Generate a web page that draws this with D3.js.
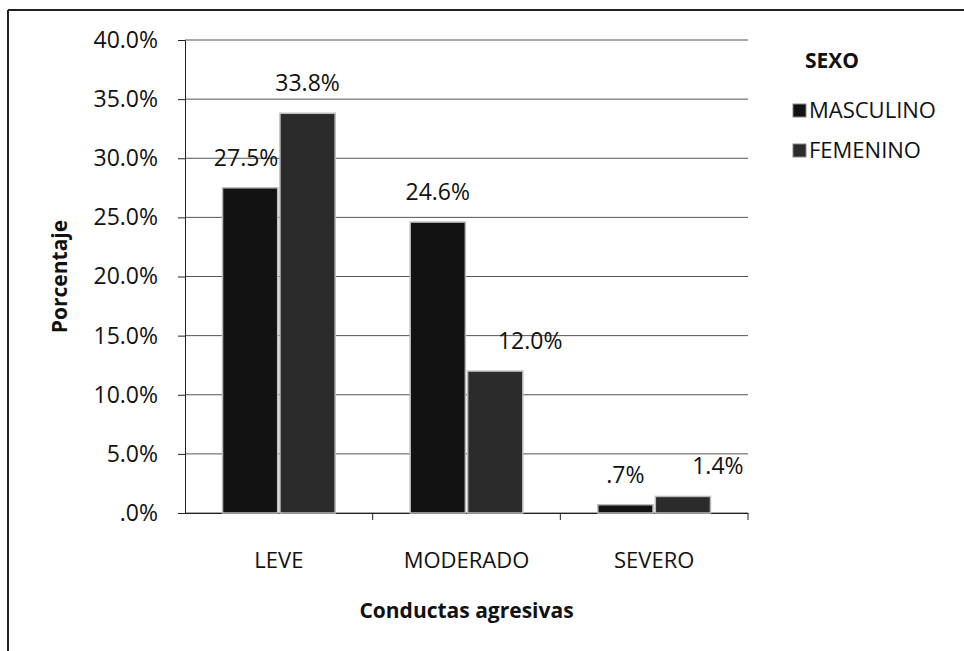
<!DOCTYPE html>
<html>
<head>
<meta charset="utf-8">
<script src="https://cdn.jsdelivr.net/npm/d3@7"></script>
<style>
  body { margin: 0; background: #fff; }
  text { font-family: "Open Sans", "Noto Sans", sans-serif; fill: #111; }
</style>
</head>
<body>
<div id="chart"></div>
<script>
const width = 964;
const height = 651;
const margin = { top: 40, right: 216, bottom: 138, left: 185 };

const categories = ['LEVE', 'MODERADO', 'SEVERO'];
const series = ['MASCULINO', 'FEMENINO'];
const masculino = [27.5, 24.6, 0.7];
const femenino = [33.8, 12.0, 1.4];
const yTicks = [0, 5, 10, 15, 20, 25, 30, 35, 40];

const data = categories.map((c, i) => ({ cat: c, values: [masculino[i], femenino[i]] }));

const svg = d3.select('#chart')
    .append('svg')
    .attr('width', width)
    .attr('height', height);

// outer frame (only top and left edges show)
svg.append('line').attr('x1', 8).attr('x2', width).attr('y1', 10).attr('y2', 10)
    .attr('stroke', '#222').attr('stroke-width', 2);
svg.append('line').attr('x1', 8).attr('x2', 8).attr('y1', 10).attr('y2', height)
    .attr('stroke', '#222').attr('stroke-width', 2);

const x0 = d3.scaleBand()
    .domain(categories)
    .range([margin.left, width - margin.right]);

const x1 = d3.scaleBand()
    .domain(series)
    .range([x0.bandwidth() * 0.2, x0.bandwidth() * 0.8])
    .paddingInner(0.04);

const y = d3.scaleLinear()
    .domain([0, 40])
    .range([height - margin.bottom, margin.top]);

const fmt = d => d === 0 ? '.0%' : (d < 1 ? '.' + Math.round(d * 10) + '%' : d.toFixed(1) + '%');

// gridlines
svg.append('g')
    .selectAll('line')
    .data(yTicks)
    .join('line')
      .attr('x1', margin.left)
      .attr('x2', width - margin.right)
      .attr('y1', d => y(d))
      .attr('y2', d => y(d))
      .attr('stroke', '#555')
      .attr('stroke-width', 1);

// y axis
svg.append('g')
    .attr('transform', `translate(${margin.left},0)`)
    .call(d3.axisLeft(y).tickValues(yTicks).tickFormat(fmt).tickSize(7).tickPadding(20))
    .call(g => g.selectAll('text').attr('font-size', '23px'))
    .call(g => g.selectAll('line, path').attr('stroke', '#222'));

// x axis
svg.append('g')
    .attr('transform', `translate(0,${y(0)})`)
    .call(d3.axisBottom(x0).tickSize(0).tickPadding(39))
    .call(g => g.select('.domain').attr('stroke', '#222'))
    .call(g => g.selectAll('text').attr('font-size', '22px'));

svg.append('g')
    .selectAll('line')
    .data(categories)
    .join('line')
      .attr('x1', d => x0(d) + x0.bandwidth())
      .attr('x2', d => x0(d) + x0.bandwidth())
      .attr('y1', y(0))
      .attr('y2', y(0) + 7)
      .attr('stroke', '#222');

const colors = { MASCULINO: '#121212', FEMENINO: '#2b2b2b' };

// bars
const groups = svg.append('g')
    .selectAll('g')
    .data(data)
    .join('g')
      .attr('transform', d => `translate(${x0(d.cat)},0)`);

groups.selectAll('rect')
    .data(d => d.values.map((v, i) => ({ key: series[i], v })))
    .join('rect')
      .attr('x', d => x1(d.key))
      .attr('y', d => y(d.v))
      .attr('width', x1.bandwidth())
      .attr('height', d => y(0) - y(d.v))
      .attr('fill', d => colors[d.key])
      .attr('stroke', '#bbb')
      .attr('stroke-width', 1.5);

// data labels (Excel nudged some to the right)
const nudge = { 'MODERADO|FEMENINO': 35, 'SEVERO|FEMENINO': 35, 'LEVE|MASCULINO': -4 };
groups.selectAll('text.lbl')
    .data(d => d.values.map((v, i) => ({ cat: d.cat, key: series[i], v })))
    .join('text')
      .attr('class', 'lbl')
      .attr('x', d => x1(d.key) + x1.bandwidth() / 2 + (nudge[d.cat + '|' + d.key] || 0))
      .attr('y', d => y(d.v) - 22)
      .attr('text-anchor', 'middle')
      .attr('font-size', '23px')
      .text(d => fmt(d.v));

// axis titles
svg.append('text')
    .attr('transform', `translate(67,${(y(0) + y(40)) / 2}) rotate(-90)`)
    .attr('text-anchor', 'middle')
    .attr('font-size', '21px')
    .attr('font-weight', 'bold')
    .text('Porcentaje');

svg.append('text')
    .attr('x', (margin.left + width - margin.right) / 2)
    .attr('y', 618)
    .attr('text-anchor', 'middle')
    .attr('font-size', '21px')
    .attr('font-weight', 'bold')
    .text('Conductas agresivas');

// legend
const legend = svg.append('g').attr('transform', 'translate(793,0)');
legend.append('text')
    .attr('x', 12).attr('y', 68)
    .attr('font-size', '21px').attr('font-weight', 'bold')
    .text('SEXO');

const items = legend.selectAll('g')
    .data(series)
    .join('g')
      .attr('transform', (d, i) => `translate(0,${118 + i * 40})`);
items.append('rect')
    .attr('x', 0).attr('y', -14).attr('width', 13).attr('height', 13)
    .attr('fill', d => colors[d]).attr('stroke', '#888');
items.append('text')
    .attr('x', 16).attr('y', 0)
    .attr('font-size', '22px')
    .text(d => d);
</script>
</body>
</html>
